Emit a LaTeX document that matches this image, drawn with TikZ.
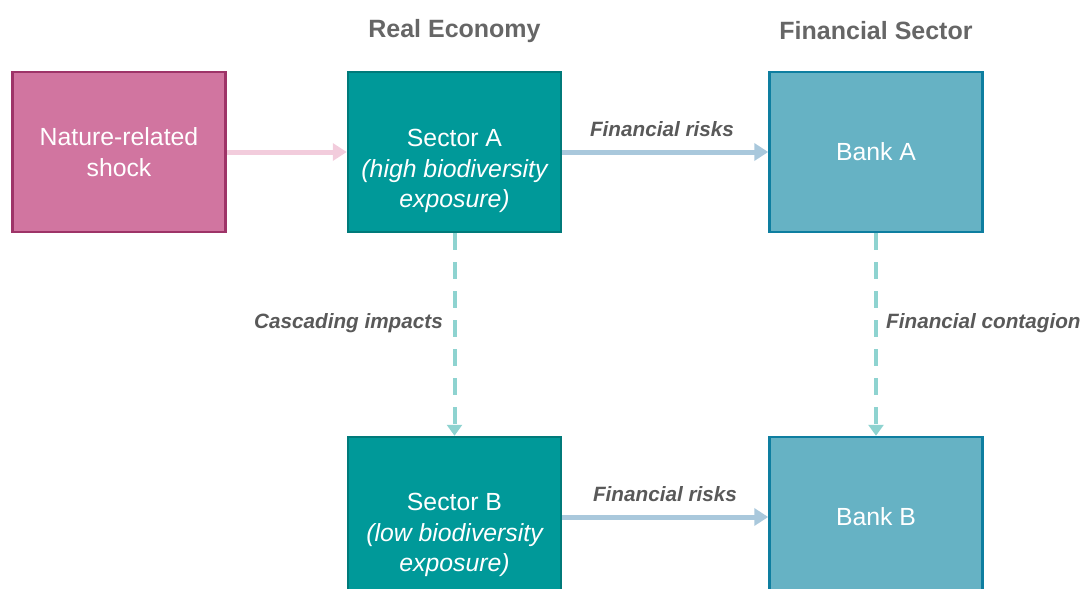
\documentclass[tikz,border=0pt]{standalone}
\usepackage{fontspec}
\setmainfont{Liberation Sans}
\usetikzlibrary{arrows.meta}
\definecolor{shockfill}{HTML}{D175A0}
\definecolor{shockline}{HTML}{9E3468}
\definecolor{secfill}{HTML}{009999}
\definecolor{secline}{HTML}{007A7A}
\definecolor{bankfill}{HTML}{66B2C4}
\definecolor{bankline}{HTML}{0E7EA0}
\definecolor{pinkarrow}{HTML}{F2CCDC}
\definecolor{bluearrow}{HTML}{A9C8DC}
\definecolor{dasharrow}{HTML}{8ED3D0}
\definecolor{labelgray}{HTML}{595959}
\definecolor{headgray}{HTML}{666666}
\begin{document}
\begin{tikzpicture}[x=1pt,y=-1pt,
  box/.style={minimum width=213pt,minimum height=160pt,line width=2.5pt,inner sep=0pt},
  boxtext/.style={text=white,align=center,font=\fontsize{24.8}{30.5}\selectfont,inner sep=0pt},
  shockbox/.style={box,fill=shockfill,draw=shockline},
  secbox/.style={box,fill=secfill,draw=secline},
  bankbox/.style={box,fill=bankfill,draw=bankline},
  head/.style={font=\fontsize{25}{28}\selectfont\bfseries,text=headgray},
  lbl/.style={font=\fontsize{20.7}{24}\selectfont\bfseries\itshape,text=labelgray,inner sep=0pt},
  solidarrow/.style={line width=5pt,-{Triangle[length=14pt,width=17pt]}},
  dasharr/.style={line width=4pt,draw=dasharrow,dash pattern=on 17pt off 12pt,-{Triangle[length=11pt,width=15pt]}}
]
\useasboundingbox (0,0) rectangle (1082,589);
\begin{scope}
\clip (0,0) rectangle (1082,589);
\node[shockbox] (shock) at (119,152) {};
\node[secbox] (secA) at (454.5,152) {};
\node[bankbox] (bankA) at (876,152) {};
\node[secbox] (secB) at (454.5,517) {};
\node[bankbox] (bankB) at (876,517) {};
\end{scope}
\node[boxtext] (shockt) at (shock.center) {Nature-related\\shock};
\node[boxtext] (secAt) at ([yshift=-19pt]secA.center) {Sector A\\\itshape(high biodiversity\\\itshape exposure)};
\node[boxtext] (bankAt) at (bankA.center) {Bank A};
\node[boxtext] (secBt) at ([yshift=-18pt]secB.center) {Sector B\\\itshape(low biodiversity\\\itshape exposure)};
\node[boxtext] (bankBt) at (bankB.center) {Bank B};
\node[head] (hre) at (454.5,31) {Real Economy};
\node[head] (hfs) at (876,31) {Financial Sector};

\draw[solidarrow,draw=pinkarrow] (shock.east) -- (secA.west);
\draw[solidarrow,draw=bluearrow] (secA.east) -- (bankA.west);
\draw[solidarrow,draw=bluearrow] (secB.east) -- (bankB.west);
\draw[dasharr] (secA.south) -- (secB.north);
\draw[dasharr] (bankA.south) -- (bankB.north);

\node[lbl] (l1) at (662,129) {Financial risks};
\node[lbl] (l2) at (665,494) {Financial risks};
\node[lbl,anchor=east] (l3) at (443,323) {Cascading impacts};
\node[lbl,anchor=west] (l4) at (886,323) {Financial contagion};
\end{tikzpicture}
\end{document}
